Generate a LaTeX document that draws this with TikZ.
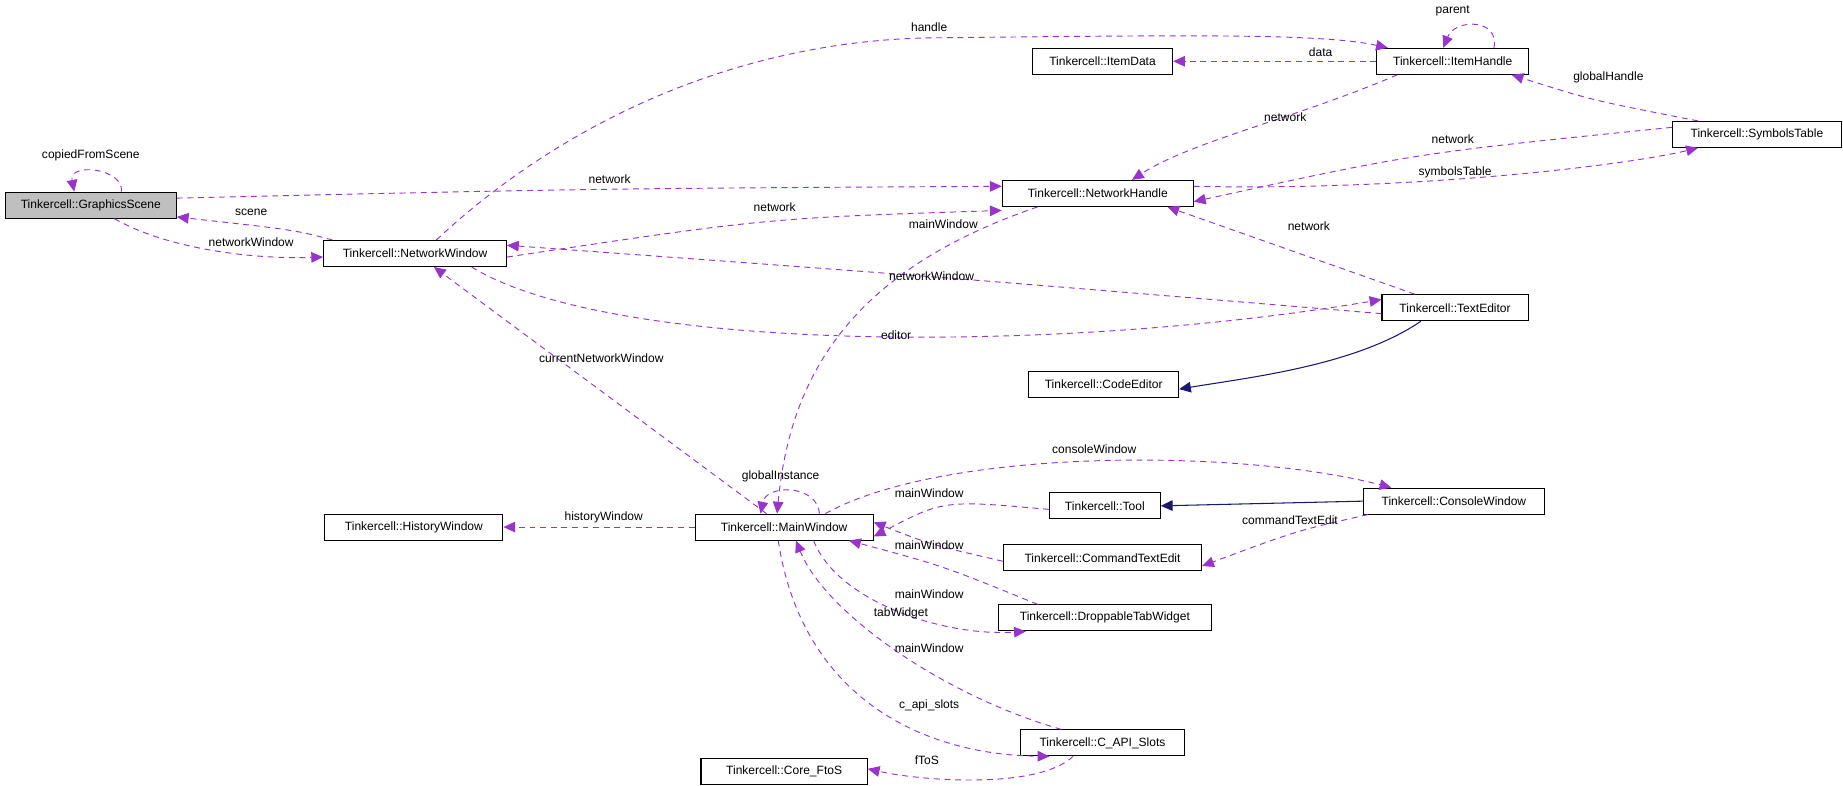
\documentclass[tikz,border=0pt]{standalone}
\usepackage{fontspec}
\setmainfont{Liberation Sans}
\usetikzlibrary{arrows.meta}
\definecolor{pur}{HTML}{9A32CD}
\definecolor{nav}{HTML}{191970}
\begin{document}
\begin{tikzpicture}[x=1pt,y=-1pt,
  cls/.style={draw,line width=0.9pt,minimum height=22pt,inner sep=2pt,font=\fontsize{10.2}{12}\selectfont},
  use/.style={pur,dash pattern=on 5pt off 4pt,line width=0.8pt,-{Triangle[width=9pt,length=10pt]}},
  inh/.style={nav,line width=0.9pt,-{Triangle[width=9pt,length=10pt]}},
  lab/.style={font=\fontsize{10.2}{12}\selectfont,inner sep=1pt}]
\useasboundingbox (0,0) rectangle (1563,666);
\node[cls,fill=black!25,minimum width=145pt] (gs) at (77,174) {Tinkercell::GraphicsScene};
\node[cls,minimum width=155pt] (nw) at (352,215) {Tinkercell::NetworkWindow};
\node[cls,minimum width=162pt] (nh) at (931,164) {Tinkercell::NetworkHandle};
\node[cls,minimum width=129pt] (ih) at (1232,52) {Tinkercell::ItemHandle};
\node[cls,minimum width=119pt] (id) at (935,52) {Tinkercell::ItemData};
\node[cls,minimum width=143pt] (st) at (1490,114) {Tinkercell::SymbolsTable};
\node[cls,minimum width=124pt] (te) at (1234,261) {Tinkercell::TextEditor};
\node[cls,minimum width=127pt] (ce) at (936,326) {Tinkercell::CodeEditor};
\node[cls,minimum width=151pt] (mw) at (665,447) {Tinkercell::MainWindow};
\node[cls,minimum width=151pt] (hw) at (351,447) {Tinkercell::HistoryWindow};
\node[cls,minimum width=94pt] (tl) at (937,429) {Tinkercell::Tool};
\node[cls,minimum width=153pt] (cw) at (1233,425) {Tinkercell::ConsoleWindow};
\node[cls,minimum width=168pt] (ct) at (935,473) {Tinkercell::CommandTextEdit};
\node[cls,minimum width=181pt] (dt) at (937,524) {Tinkercell::DroppableTabWidget};
\node[cls,minimum width=139pt] (ca) at (935,630) {Tinkercell::C\_API\_Slots};
\node[cls,minimum width=141pt] (cf) at (665,654) {Tinkercell::Core\_FtoS};

\coordinate (c1) at (800,32);
% GraphicsScene
\draw[use] ([xshift=26pt]gs.north) .. controls +(2,-20) and +(-5,-25) .. ([xshift=-14pt]gs.north);
\node[lab] at (77,132) {copiedFromScene};
\draw[use] ([yshift=6pt]gs.east) .. controls (500,160) .. ([yshift=6pt]nh.west);
\node[lab] at (517,152) {network};
\draw[use] ([xshift=20pt]gs.south) .. controls (140,210) and (210,220) .. ([yshift=-3pt]nw.west);
\node[lab] at (213,205) {networkWindow};
\draw[use] ([xshift=-70pt]nw.north) .. controls (250,195) .. ([yshift=-10pt]gs.east);
\node[lab] at (213,180) {scene};
% NetworkWindow
\draw[use] ([xshift=18pt]nw.north) .. controls (470,110) and (620,32) .. (c1) .. controls (1000,30) and (1120,28) .. ([xshift=-55pt]ih.north);
\node[lab] at (788,23) {handle};
\draw[use] ([yshift=-3pt]nw.east) .. controls (650,185) .. ([yshift=-3pt]nh.south west);
\node[lab] at (657,176) {network};
\draw[use] ([xshift=48pt]nw.south) .. controls (520,300) and (900,300) .. ([yshift=7pt]te.west);
\node[lab] at (760,284) {editor};
% ItemHandle
\draw[use] (ih.west) -- (id.east);
\node[lab] at (1120,44) {data};
\draw[use] ([xshift=35pt]ih.north) .. controls +(5,-25) and +(10,-25) .. ([xshift=-8pt]ih.north);
\node[lab] at (1232,9) {parent};
\draw[use] ([xshift=-47pt]ih.south) .. controls (1100,100) and (1010,120) .. ([xshift=29pt]nh.north);
\node[lab] at (1090,99) {network};
% SymbolsTable
\draw[use] ([xshift=-50pt]st.north) .. controls (1350,85) .. ([xshift=50pt]ih.south);
\node[lab] at (1364,66) {globalHandle};
\draw[use] ([yshift=6pt]st.west) .. controls (1200,130) .. ([yshift=-7pt]nh.east);
\node[lab] at (1232,118) {network};
\draw[use] ([yshift=6pt]nh.east) .. controls (1200,162) and (1380,140) .. ([xshift=-50pt]st.south);
\node[lab] at (1234,146) {symbolsTable};
% TextEditor
\draw[use] ([xshift=-34pt]te.north) -- ([xshift=59pt]nh.south);
\node[lab] at (1110,192) {network};
\draw[use] ([yshift=-5pt]te.west) .. controls (800,235) .. ([yshift=7pt]nw.east);
\node[lab] at (790,234) {networkWindow};
\draw[inh] ([xshift=-29pt]te.south) .. controls (1150,310) and (1060,320) .. ([yshift=-4pt]ce.east);
% MainWindow
\draw[use] ([xshift=-15pt]mw.north) -- ([xshift=16pt]nw.south);
\node[lab] at (510,304) {currentNetworkWindow};
\draw[use] ([xshift=-51pt]nh.south) .. controls (720,230) and (670,320) .. ([xshift=-6pt]mw.north);
\node[lab] at (800,190) {mainWindow};
\draw[use] ([xshift=30pt]mw.north) .. controls +(-2,-25) and +(5,-25) .. ([xshift=-20pt]mw.north);
\node[lab] at (662,404) {globalInstance};
\draw[use] (mw.west) -- (hw.east);
\node[lab] at (512,439) {historyWindow};
\draw[use] ([xshift=35pt]mw.north) .. controls (800,380) and (1050,380) .. ([xshift=-53pt]cw.north);
\node[lab] at (928,381) {consoleWindow};
\draw[use] ([yshift=-3pt]tl.west) .. controls (800,424) .. ([yshift=-8pt]mw.east);
\node[lab] at (788,418) {mainWindow};
\draw[inh] (cw.west) -- (tl.east);
\draw[use] ([xshift=-73pt]cw.south) .. controls (1100,450) .. ([yshift=-7pt]ct.east);
\node[lab] at (1094,441) {commandTextEdit};
\draw[use] ([yshift=-3pt]ct.west) .. controls (790,462) .. ([yshift=4pt]mw.east);
\node[lab] at (788,462) {mainWindow};
\draw[use] ([xshift=-57pt]dt.north) .. controls (800,480) .. ([xshift=55pt]mw.south);
\node[lab] at (788,504) {mainWindow};
\draw[use] ([xshift=25pt]mw.south) .. controls (710,510) and (800,540) .. ([xshift=-67pt]dt.south);
\node[lab] at (764,520) {tabWidget};
\draw[use] ([xshift=-35pt]ca.north) .. controls (800,590) and (700,520) .. ([xshift=10pt]mw.south);
\node[lab] at (788,550) {mainWindow};
\draw[use] ([xshift=-5pt]mw.south) .. controls (680,590) and (780,640) .. ([xshift=-45pt]ca.south);
\node[lab] at (788,598) {c\_api\_slots};
\draw[use] ([xshift=-25pt]ca.south) .. controls (880,670) and (780,662) .. ([yshift=2pt]cf.east);
\node[lab] at (786,645) {fToS};
\end{tikzpicture}
\end{document}
